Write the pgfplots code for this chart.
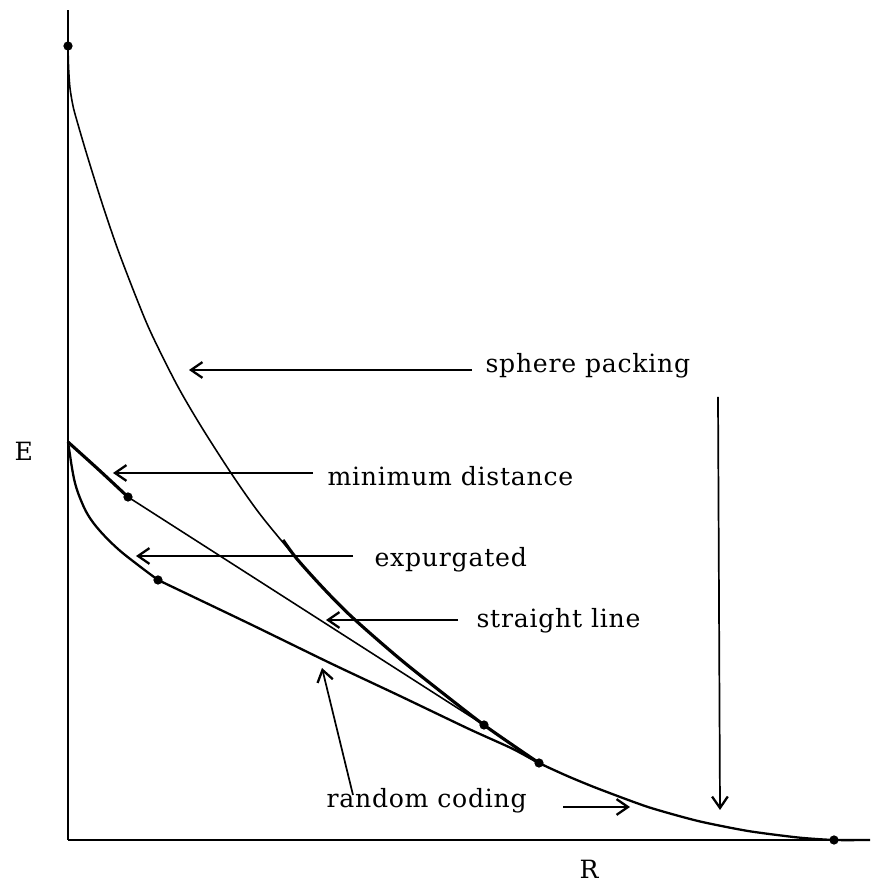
\documentclass[border=0pt]{standalone}
\usepackage{fontspec}
\setmainfont{DejaVu Serif}[LetterSpace=3]
\usepackage{pgfplots}
\pgfplotsset{compat=1.18}
\usetikzlibrary{arrows.meta}
\begin{document}
\begin{tikzpicture}[every node/.style={font=\fontsize{8.8}{10}\selectfont, inner sep=0pt},
  arr/.style={-{Straight Barb[length=4pt,width=5.5pt,line width=0.8pt]}, line width=0.6pt}]
\begin{axis}[
  x=0.35pt, y=0.35pt,
  xmin=0, xmax=802, ymin=0, ymax=830,
  axis lines=left,
  axis line style={-, line width=0.8pt},
  xtick=\empty, ytick=\empty,
  clip=false,
]
% sphere packing (thin upper part through to its end)
\addplot[black, line width=0.55pt, smooth, tension=0.5] coordinates {
(0,794) (0.6,772) (2,752) (5,734) (9,719) (19,685) (34,637) (50,590) (70,538)
(84,505) (109,455) (133.5,413) (165,364) (193,324.5) (229,281) (257,250)
(285,222) (332,181) (381,142) (416,115) (446,94) (471,77)};
% sphere packing (heavy lower part)
\addplot[black, line width=1.1pt, smooth, tension=0.5] coordinates {
(215,300) (229,281) (257,250) (285,222) (332,181) (381,142) (416,115) (446,94) (471,77)};
% minimum distance
\addplot[black, line width=1.1pt, smooth] coordinates {(0,398) (31,370) (60,343)};
% straight line
\addplot[black, line width=0.55pt] coordinates {(60,343) (416,115)};
% expurgated
\addplot[black, line width=0.8pt, smooth, tension=0.6] coordinates {
(0,398) (2,385) (4,372) (7,357) (12,342) (20,325) (32,309) (50,291) (70,275) (90,260)};
% random coding
\addplot[black, line width=0.8pt, smooth, tension=0.4] coordinates {
(90,260) (182,216) (262,177) (332,144) (401,111) (444,91.5) (471,77)
(500,63.7) (530,51.4) (580,33) (630,19) (680,9) (730,2.5) (766,0) (802,0)};
% dots
\addplot[only marks, mark=*, mark size=1.4pt, black] coordinates {
(0,794) (60,343) (90,260) (416,115) (471,77) (766,0)};

% arrows
\draw[arr] (404,470) -- (121,470);
\draw[arr] (245,367) -- (45,367);
\draw[arr] (285,284) -- (68,284);
\draw[arr] (390,220) -- (258,220);
\draw[arr] (285,45) -- (254,172);
\draw[arr] (495,33) -- (562,33);
\draw[arr] (650,443) -- (652,30);

% labels
\node[anchor=base west] at (417,467) {sphere packing};
\node[anchor=base west] at (259,354) {minimum distance};
\node[anchor=base west] at (306,273) {expurgated};
\node[anchor=base west] at (408,212) {straight line};
\node[anchor=base west] at (258,33) {random coding};
\node[anchor=base west] at (-54,379) {E};
\node[anchor=base west] at (511,-38) {R};

\coordinate (bl) at (-68,-43);
\coordinate (tr) at (815,840);
\end{axis}
\pgfresetboundingbox
\useasboundingbox (bl) rectangle (tr);
\end{tikzpicture}
\end{document}
